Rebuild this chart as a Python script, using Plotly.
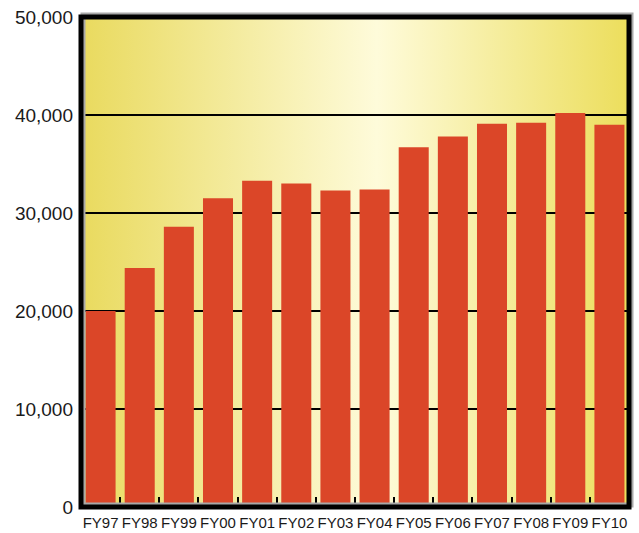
import base64
import plotly.graph_objects as go

# Fiscal years and their values
years = ["FY97", "FY98", "FY99", "FY00", "FY01", "FY02", "FY03",
         "FY04", "FY05", "FY06", "FY07", "FY08", "FY09", "FY10"]
values = [20000, 24400, 28600, 31500, 33300, 33000, 32300,
          32400, 36700, 37800, 39100, 39200, 40200, 39000]

y_ticks = [0, 10000, 20000, 30000, 40000, 50000]

BAR_COLOR = "#DB4628"

# Horizontal yellow-cream-yellow gradient used as the plot background
gradient_svg = (
    '<svg xmlns="http://www.w3.org/2000/svg" width="100" height="100" '
    'preserveAspectRatio="none">'
    '<defs><linearGradient id="g" x1="0" y1="0" x2="1" y2="0">'
    '<stop offset="0" stop-color="#E9DA5E"/>'
    '<stop offset="0.54" stop-color="#FEFBDA"/>'
    '<stop offset="1" stop-color="#ECDE5C"/>'
    '</linearGradient></defs>'
    '<rect width="100" height="100" fill="url(#g)"/></svg>'
)
gradient_uri = "data:image/svg+xml;base64," + base64.b64encode(
    gradient_svg.encode()).decode()

fig = go.Figure(
    go.Bar(x=years, y=values, marker=dict(color=BAR_COLOR, line=dict(width=0)))
)

W, H = 639, 533
L, R, T, B = 81, 10, 17, 26
pw, ph = W - L - R, H - T - B

fig.update_layout(
    width=W, height=H,
    margin=dict(l=L, r=R, t=T, b=B, pad=0, autoexpand=False),
    paper_bgcolor="white",
    plot_bgcolor="rgba(0,0,0,0)",
    bargap=0.233,
    showlegend=False,
    font=dict(family="Liberation Sans, Arial, sans-serif", color="#1a1a1a"),
    images=[dict(
        source=gradient_uri, xref="x domain", yref="y domain",
        x=0, y=1, sizex=1, sizey=1, xanchor="left", yanchor="top",
        sizing="stretch", layer="below",
    )],
    shapes=[
        # soft grey drop shadow of the frame
        dict(type="rect", xref="paper", yref="paper",
             x0=2 / pw, x1=1 + 2 / pw, y0=2 / ph, y1=1 + 2 / ph,
             line=dict(color="#a8a8a8", width=5), layer="above"),
        # heavy black frame round the plot
        dict(type="rect", xref="paper", yref="paper",
             x0=0, x1=1, y0=0, y1=1,
             line=dict(color="black", width=5), layer="above"),
    ],
)

fig.update_xaxes(
    type="category",
    automargin=False,
    tickangle=0,
    tickson="boundaries",
    ticks="inside", ticklen=10, tickwidth=2, tickcolor="black",
    showgrid=False, showline=False, zeroline=False,
    tickfont=dict(family="Liberation Sans Narrow, Arial Narrow, sans-serif",
                  size=15, color="#1a1a1a"),
    ticklabelstandoff=5,
)

fig.update_yaxes(
    automargin=False,
    range=[0, 50000],
    tickvals=y_ticks,
    tickformat=",d",
    showgrid=True, gridcolor="black", gridwidth=2,
    showline=False, zeroline=False,
    ticks="", tickfont=dict(size=19, color="#1a1a1a"),
    ticklabelstandoff=7,
)

fig.write_html("out.html")
